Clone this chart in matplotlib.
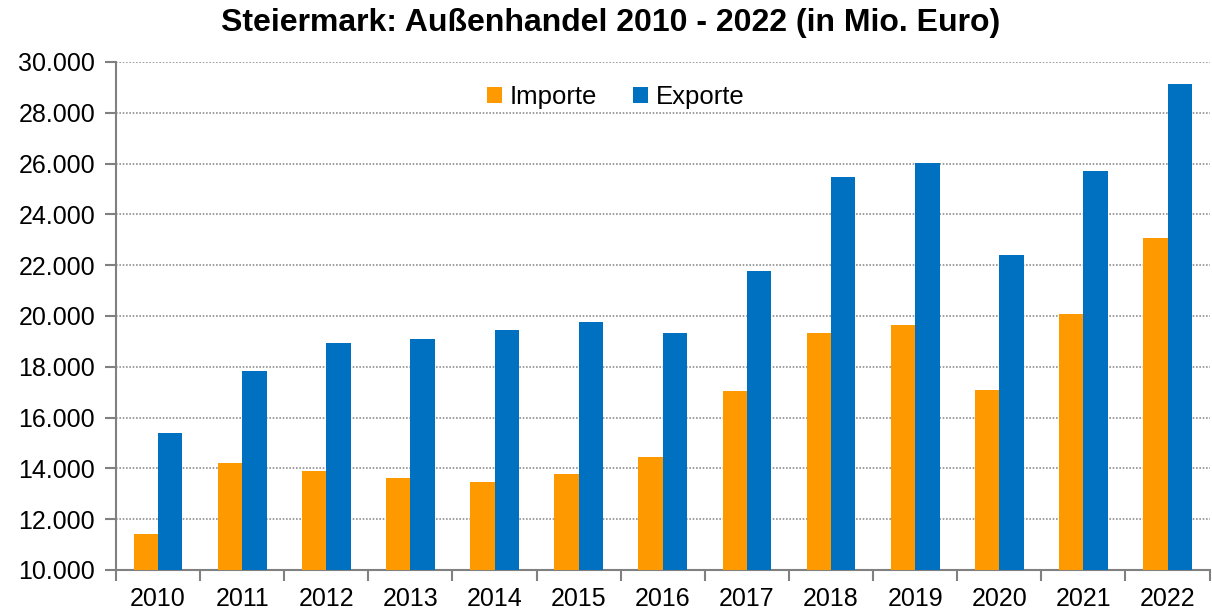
import numpy as np
import matplotlib.pyplot as plt
from matplotlib.ticker import FuncFormatter, FixedLocator

years = ['2010', '2011', '2012', '2013', '2014', '2015', '2016',
         '2017', '2018', '2019', '2020', '2021', '2022']
importe = [11420, 14210, 13900, 13620, 13460, 13780, 14450,
           17050, 19330, 19650, 17090, 20080, 23070]
exporte = [15390, 17830, 18940, 19090, 19450, 19760, 19330,
           21770, 25470, 26020, 22400, 25710, 29130]

plt.rcParams['font.family'] = ['Liberation Sans', 'DejaVu Sans']

fig = plt.figure(figsize=(12.12, 6.15), dpi=100)
ax = fig.add_axes([0.0957, 0.0732, 0.9023, 0.8260])

x = np.arange(len(years))
w = 0.29
ax.bar(x - w / 2, importe, width=w, color='#FF9900', label='Importe', zorder=3)
ax.bar(x + w / 2, exporte, width=w, color='#0070C0', label='Exporte', zorder=3)

ax.set_ylim(10000, 30000)
ax.set_xlim(-0.5, len(years) - 0.5)
ax.set_yticks(np.arange(10000, 30001, 2000))
ax.yaxis.set_major_formatter(FuncFormatter(lambda v, p: f'{int(v):,}'.replace(',', '.')))
ax.grid(axis='y', color='#909090', linestyle=(0, (1, 1)), linewidth=1.2, zorder=0)

ax.set_xticks(x)
ax.set_xticklabels(years)
ax.xaxis.set_minor_locator(FixedLocator(np.arange(-0.5, len(years), 1)))
ax.tick_params(axis='x', which='major', length=0, pad=12, labelsize=18)
ax.tick_params(axis='x', which='minor', length=8, width=1.5, color='#808080')
ax.tick_params(axis='y', length=8, width=1.5, color='#808080', labelsize=18, pad=7)

for s in ['top', 'right']:
    ax.spines[s].set_visible(False)
for s in ['left', 'bottom']:
    ax.spines[s].set_color('#808080')
    ax.spines[s].set_linewidth(1.5)

ax.legend(loc='upper center', bbox_to_anchor=(0.457, 1.0), ncol=2, frameon=False,
          fontsize=18.5, handlelength=0.6, handleheight=0.6, handletextpad=0.3,
          columnspacing=1.4)

fig.suptitle('Steiermark: Außenhandel 2010 - 2022 (in Mio. Euro)',
             fontsize=23, fontweight='bold', x=0.504, y=0.987)

fig.savefig('out.png', dpi=100)
